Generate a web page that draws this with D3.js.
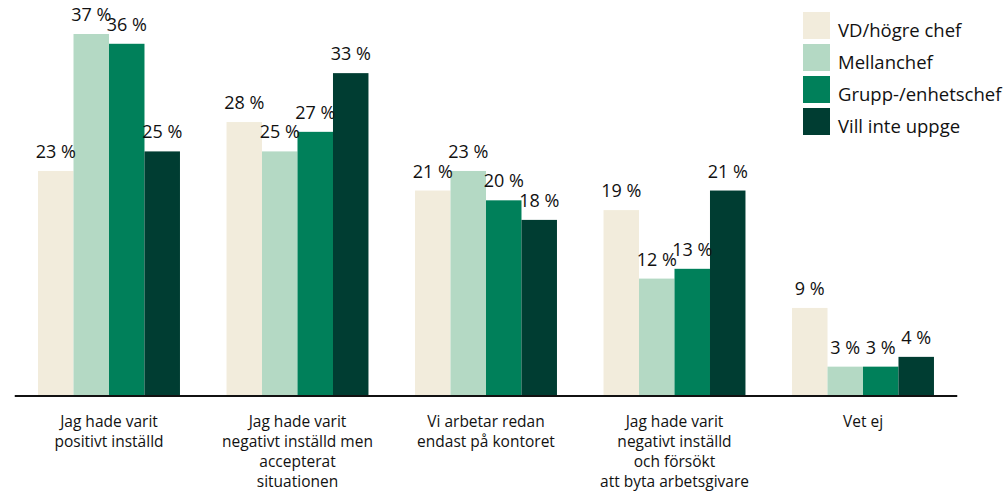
<!DOCTYPE html>
<html>
<head>
<meta charset="utf-8">
<script src="https://cdn.jsdelivr.net/npm/d3@7"></script>
<style>
body{margin:0;background:#fff;}
text{font-family:"Open Sans","Noto Sans",sans-serif;fill:#111;}
</style>
</head>
<body>
<svg id="chart" width="1007" height="492"></svg>
<script>
const categories = [
  ["Jag hade varit","positivt inställd"],
  ["Jag hade varit","negativt inställd men","accepterat","situationen"],
  ["Vi arbetar redan","endast på kontoret"],
  ["Jag hade varit","negativt inställd","och försökt","att byta arbetsgivare"],
  ["Vet ej"]
];
const seriesNames = ["VD/högre chef","Mellanchef","Grupp-/enhetschef","Vill inte uppge"];
const vdHogreChef = [23, 28, 21, 19, 9];
const mellanchef = [37, 25, 23, 12, 3];
const gruppEnhetschef = [36, 27, 20, 13, 3];
const villInteUppge = [25, 33, 18, 21, 4];
const colors = ["#F2ECDC","#B4D9C4","#00805A","#003D32"];

const series = [vdHogreChef, mellanchef, gruppEnhetschef, villInteUppge];
const svg = d3.select("#chart");
const baseY = 396;

const x0 = d3.scaleBand().domain(d3.range(categories.length)).range([14.75, 957.25]).paddingInner(0.247).paddingOuter(0.1235);
const x1 = d3.scaleBand().domain(d3.range(series.length)).range([0, x0.bandwidth()]);
const y = d3.scaleLinear().domain([0, 37]).range([baseY, 34]);

const groups = svg.selectAll("g.grp").data(categories).join("g")
  .attr("transform", (d,i) => `translate(${x0(i)},0)`);

groups.each(function(cat, ci){
  const g = d3.select(this);
  const vals = series.map(s => s[ci]);
  g.selectAll("rect").data(vals).join("rect")
    .attr("x", (d,si) => x1(si))
    .attr("width", x1.bandwidth())
    .attr("y", d => y(d))
    .attr("height", d => baseY - y(d))
    .attr("fill", (d,si) => colors[si]);
  g.selectAll("text.val").data(vals).join("text")
    .attr("class","val")
    .attr("x", (d,si) => x1(si) + x1.bandwidth()/2)
    .attr("y", d => y(d) - 13)
    .attr("text-anchor","middle")
    .attr("font-size", 18)
    .text(d => d + " %");
  const t = g.append("text")
    .attr("x", x0.bandwidth()/2)
    .attr("y", 427)
    .attr("text-anchor","middle")
    .attr("font-size", 15.5);
  cat.forEach((line, li) => {
    t.append("tspan").attr("x", x0.bandwidth()/2).attr("dy", li === 0 ? 0 : 20).text(line);
  });
});

svg.append("line")
  .attr("x1", x0.range()[0]).attr("x2", x0.range()[1])
  .attr("y1", baseY).attr("y2", baseY)
  .attr("stroke", "#111").attr("stroke-width", 2);

const legend = svg.append("g").attr("transform","translate(803,12)");
seriesNames.forEach((name, i) => {
  legend.append("rect").attr("x",0).attr("y", i*32).attr("width",27).attr("height",27).attr("fill", colors[i]);
  legend.append("text").attr("x", 35).attr("y", i*32 + 25).attr("font-size", 18.5).text(name);
});
</script>
</body>
</html>
